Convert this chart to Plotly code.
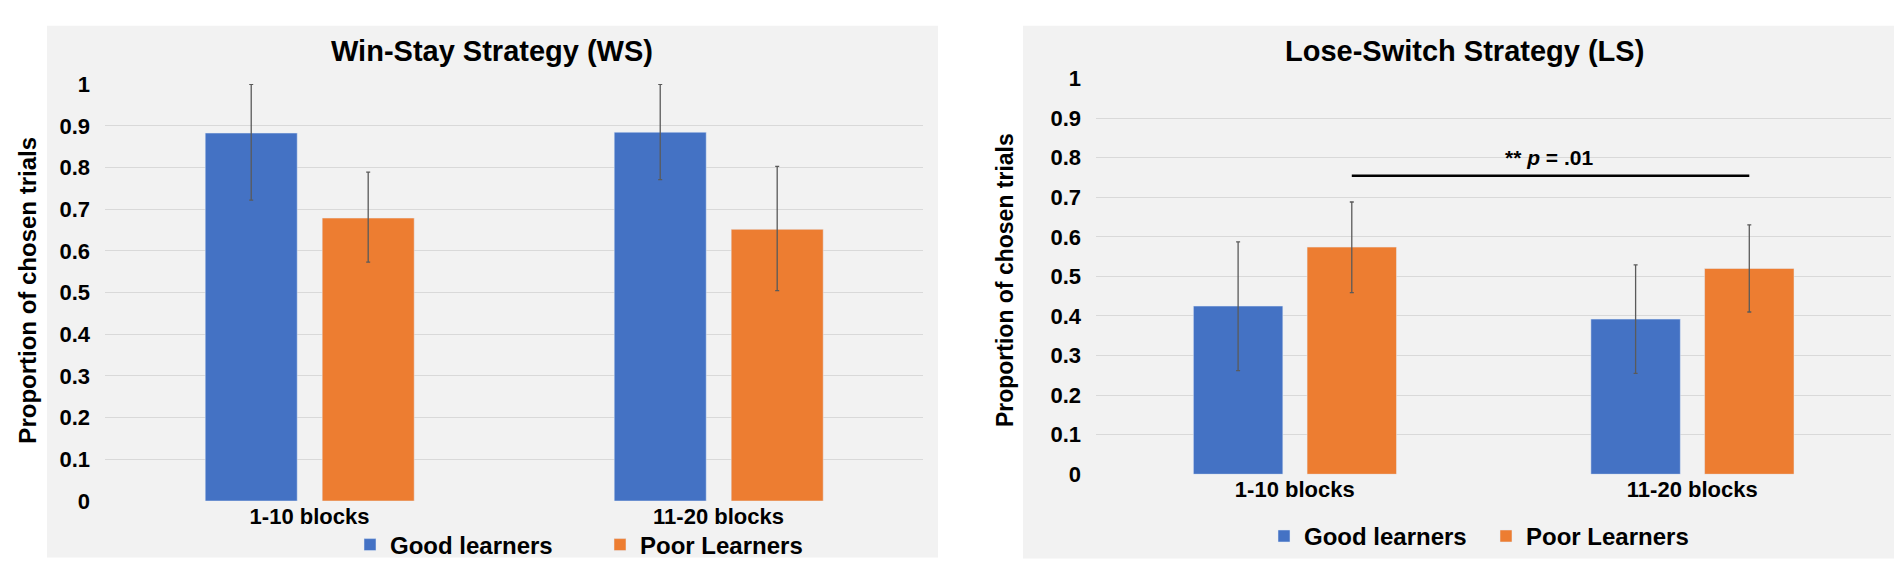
import plotly.graph_objects as go

categories = ["1-10 blocks", "11-20 blocks"]
groups = ["Good learners", "Poor Learners"]
y_ticks = [0, 0.1, 0.2, 0.3, 0.4, 0.5, 0.6, 0.7, 0.8, 0.9, 1]

# Win-Stay (WS)
ws_good = [0.883, 0.885]
ws_good_err_up = [0.117, 0.115]
ws_good_err_down = [0.161, 0.114]
ws_poor = [0.679, 0.652]
ws_poor_err_up = [0.110, 0.151]
ws_poor_err_down = [0.106, 0.147]

# Lose-Switch (LS)
ls_good = [0.425, 0.392]
ls_good_err_up = [0.162, 0.137]
ls_good_err_down = [0.163, 0.137]
ls_poor = [0.574, 0.520]
ls_poor_err_up = [0.114, 0.110]
ls_poor_err_down = [0.115, 0.110]

sig_label = "** <i>p</i> = .01"
sig_y = 0.754

BLUE = "#4472C4"
ORANGE = "#ED7D31"
W, H = 1902, 572
FONT = "Liberation Sans, Arial, sans-serif"

bar_w = 0.225
offsets = [-0.255, 0.031]


def err(up, down):
    return dict(type="data", array=up, arrayminus=down, color="#5a5a5a",
                thickness=1.3, width=2)


fig = go.Figure()

series = [
    ("x", "y", "legend", ws_good, ws_good_err_up, ws_good_err_down, ws_poor, ws_poor_err_up, ws_poor_err_down),
    ("x2", "y2", "legend2", ls_good, ls_good_err_up, ls_good_err_down, ls_poor, ls_poor_err_up, ls_poor_err_down),
]
for xa, ya, lg, g, gu, gd, p, pu, pd_ in series:
    fig.add_trace(go.Bar(x=categories, y=g, name=groups[0], marker_color=BLUE,
                         width=bar_w, offset=offsets[0], error_y=err(gu, gd),
                         xaxis=xa, yaxis=ya, legend=lg))
    fig.add_trace(go.Bar(x=categories, y=p, name=groups[1], marker_color=ORANGE,
                         width=bar_w, offset=offsets[1], error_y=err(pu, pd_),
                         xaxis=xa, yaxis=ya, legend=lg))

# significance line between poor learner bars (LS)
sig_x = [offsets[1] + bar_w / 2, 1 + offsets[1] + bar_w / 2]
fig.add_shape(type="line", xref="x2", yref="y2", x0=sig_x[0], x1=sig_x[1],
              y0=sig_y, y1=sig_y, line=dict(color="black", width=2.5))
fig.add_annotation(xref="x2", yref="y2", x=0.64, y=0.80, text=sig_label,
                   showarrow=False, font=dict(size=21))

# panel backgrounds
for x0, x1, y0, y1 in [(39, 930, 6, 562), (1015, 1895, 6, 563)]:
    fig.add_shape(type="rect", xref="paper", yref="paper", layer="below",
                  x0=x0 / W, x1=x1 / W, y0=1 - y1 / H, y1=1 - y0 / H,
                  fillcolor="#f2f2f2", line_width=0)

# titles
for xc, text in [(484, "Win-Stay Strategy (WS)"), (1456, "Lose-Switch Strategy (LS)")]:
    fig.add_annotation(xref="paper", yref="paper", x=xc / W, y=1 - 32 / H,
                       text=text, showarrow=False, font=dict(size=29),
                       xanchor="center", yanchor="middle")
for xc, yc, fs in [(20, 283, 24), (997, 272, 23)]:
    fig.add_annotation(xref="paper", yref="paper", x=xc / W, y=1 - yc / H,
                       text="Proportion of chosen trials", textangle=-90,
                       showarrow=False, font=dict(size=fs),
                       xanchor="center", yanchor="middle")

yaxis_common = dict(range=[0, 1.0005], tickvals=y_ticks, showgrid=True,
                    gridcolor="#d9d9d9", gridwidth=1, zeroline=False,
                    showline=False, ticks="", tickfont=dict(size=22),
                    ticklabelstandoff=14)
xaxis_common = dict(type="category", range=[-0.5, 1.5], showgrid=False,
                    showline=False, ticks="", tickfont=dict(size=22))

fig.update_layout(
    width=W, height=H,
    margin=dict(l=0, r=0, t=0, b=0),
    paper_bgcolor="white", plot_bgcolor="rgba(0,0,0,0)",
    font=dict(family=FONT, color="black", weight="bold"),
    barmode="overlay",
    xaxis=dict(domain=[97 / W, 915 / W], anchor="y", **xaxis_common),
    yaxis=dict(domain=[1 - 503 / H, 1 - 67 / H], anchor="x", **yaxis_common),
    xaxis2=dict(domain=[1088 / W, 1883 / W], anchor="y2", **xaxis_common),
    yaxis2=dict(domain=[1 - 475 / H, 1 - 61 / H], anchor="x2", **yaxis_common),
    legend=dict(orientation="h", x=342 / W, y=1 - 549 / H, xanchor="left",
                yanchor="middle", bgcolor="rgba(0,0,0,0)", font=dict(size=24),
                entrywidth=205, itemclick=False),
    legend2=dict(orientation="h", x=1256 / W, y=1 - 540 / H, xanchor="left",
                 yanchor="middle", bgcolor="rgba(0,0,0,0)", font=dict(size=24),
                 entrywidth=177, itemclick=False),
)

fig.write_html("out.html")
